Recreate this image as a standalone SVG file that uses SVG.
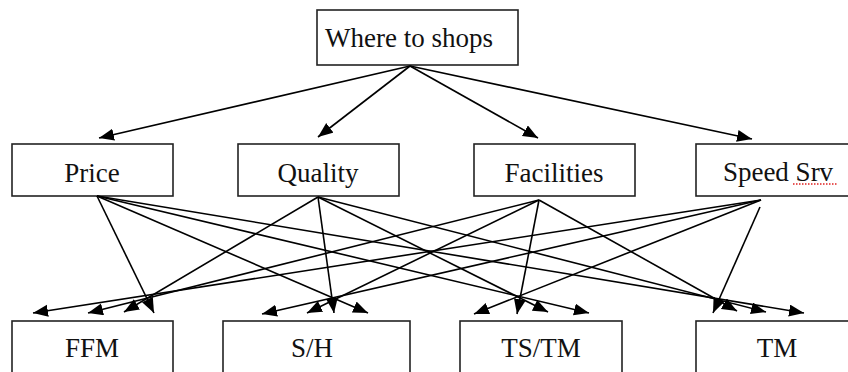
<svg xmlns="http://www.w3.org/2000/svg" width="848" height="372" viewBox="0 0 848 372">
<style>
.box{fill:#fff;stroke:#222;stroke-width:1.6}
.lbl{font-family:"Liberation Serif","Times New Roman",serif;font-size:27px;fill:#111;text-anchor:middle}
.c line{stroke:#000;stroke-width:1.6;marker-end:url(#ah)}
</style>
<defs>
<marker id="ah" markerUnits="userSpaceOnUse" markerWidth="17" markerHeight="13" refX="15" refY="6" orient="auto">
<path d="M0,0 L15,6 L0,12 z" fill="#000"/>
</marker>
</defs>
<rect width="848" height="372" fill="#fff"/>
<g id="n-where"><rect class="box" x="317" y="10" width="201" height="55"/><text class="lbl" x="409" y="47">Where to shops</text></g>
<g id="n-price"><rect class="box" x="12" y="144" width="161" height="52"/><text class="lbl" x="92" y="182">Price</text></g>
<g id="n-quality"><rect class="box" x="238" y="144" width="161" height="52"/><text class="lbl" x="318" y="182">Quality</text></g>
<g id="n-facilities"><rect class="box" x="474" y="144" width="161" height="52"/><text class="lbl" x="554" y="182">Facilities</text></g>
<g id="n-speed"><rect class="box" x="696" y="144" width="170" height="52"/><text class="lbl" x="778" y="181">Speed Srv</text><line x1="793" y1="184" x2="837" y2="184" stroke="#e02020" stroke-width="1.3" stroke-dasharray="1.5,1.5"/></g>
<g id="n-ffm"><rect class="box" x="12" y="321" width="161" height="70"/><text class="lbl" x="92" y="357">FFM</text></g>
<g id="n-sh"><rect class="box" x="223" y="321" width="187" height="70"/><text class="lbl" x="312" y="357">S/H</text></g>
<g id="n-tstm"><rect class="box" x="460" y="321" width="162" height="70"/><text class="lbl" x="541" y="357">TS/TM</text></g>
<g id="n-tm"><rect class="box" x="696" y="321" width="170" height="70"/><text class="lbl" x="777" y="357">TM</text></g>
<g id="connectors" class="c">
<line x1="410" y1="66" x2="99" y2="138"/>
<line x1="410" y1="66" x2="318" y2="137"/>
<line x1="410" y1="66" x2="538" y2="138"/>
<line x1="410" y1="66" x2="752" y2="139"/>
<line x1="97" y1="196" x2="154" y2="313"/>
<line x1="97" y1="196" x2="368" y2="313"/>
<line x1="97" y1="196" x2="589" y2="313"/>
<line x1="97" y1="196" x2="804" y2="313"/>
<line x1="318" y1="197" x2="124" y2="312"/>
<line x1="318" y1="197" x2="334" y2="313"/>
<line x1="318" y1="197" x2="548" y2="312"/>
<line x1="318" y1="197" x2="766" y2="312"/>
<line x1="539" y1="200" x2="88" y2="313"/>
<line x1="539" y1="200" x2="307" y2="313"/>
<line x1="539" y1="200" x2="517" y2="314"/>
<line x1="539" y1="200" x2="737" y2="311"/>
<line x1="761" y1="200" x2="33" y2="313"/>
<line x1="761" y1="200" x2="262" y2="314"/>
<line x1="761" y1="200" x2="474" y2="314"/>
<line x1="760" y1="207" x2="713" y2="313"/>
</g>
</svg>
